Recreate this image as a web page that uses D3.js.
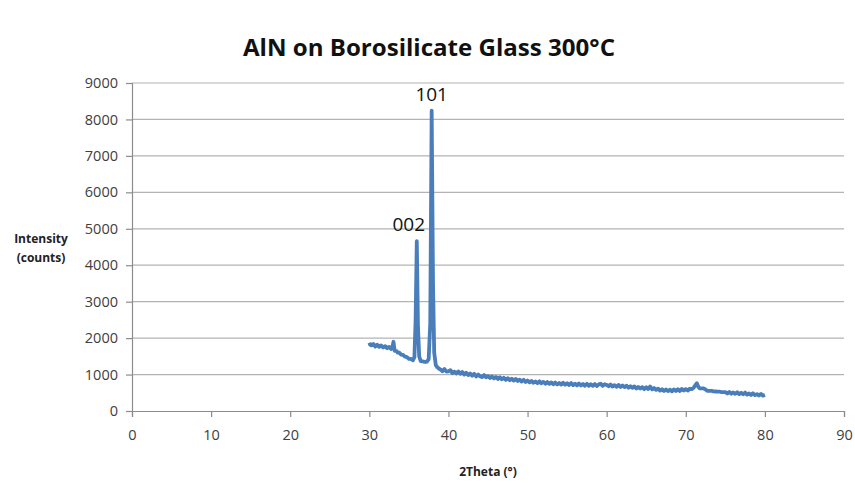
<!DOCTYPE html>
<html>
<head>
<meta charset="utf-8">
<script src="https://cdn.jsdelivr.net/npm/d3@7"></script>
<style>
  body { margin: 0; background: #fff; }
  svg text { font-family: "Open Sans", "Liberation Sans", sans-serif; }
</style>
</head>
<body>
<div id="chart"></div>
<script>
// XRD scan
const twoTheta = [
  30, 30.1, 30.25, 30.5, 30.75, 31, 31.25, 31.5, 31.75, 32, 32.25, 32.5, 32.75, 32.9, 33.05, 33.2, 33.4, 33.6, 33.8,
  34, 34.25, 34.5, 34.75, 35, 35.25, 35.5, 35.7, 35.85, 36, 36.15, 36.3, 36.5, 36.75, 37, 37.25, 37.5, 37.7, 37.88,
  38.05, 38.2, 38.4, 38.6, 38.8,
  39, 39.25, 39.5, 39.75, 40, 40.25, 40.5, 40.75, 41, 41.25, 41.5, 41.75, 42, 42.25, 42.5, 42.75,
  43, 43.25, 43.5, 43.75, 44, 44.25, 44.5, 44.75, 45, 45.25, 45.5, 45.75, 46, 46.25, 46.5, 46.75,
  47, 47.25, 47.5, 47.75, 48, 48.25, 48.5, 48.75, 49, 49.25, 49.5, 49.75, 50, 50.25, 50.5, 50.75,
  51, 51.25, 51.5, 51.75, 52, 52.25, 52.5, 52.75, 53, 53.25, 53.5, 53.75, 54, 54.25, 54.5, 54.75,
  55, 55.25, 55.5, 55.75, 56, 56.25, 56.5, 56.75, 57, 57.25, 57.5, 57.75, 58, 58.25, 58.5, 58.75,
  59, 59.25, 59.5, 59.75, 60, 60.25, 60.5, 60.75, 61, 61.25, 61.5, 61.75, 62, 62.25, 62.5, 62.75,
  63, 63.25, 63.5, 63.75, 64, 64.25, 64.5, 64.75, 65, 65.25, 65.5, 65.75, 66, 66.25, 66.5, 66.75,
  67, 67.25, 67.5, 67.75, 68, 68.25, 68.5, 68.75, 69, 69.25, 69.5, 69.75, 70, 70.25, 70.5, 70.75,
  71, 71.25, 71.4, 71.6, 71.75, 72, 72.25, 72.5, 72.75, 73, 73.25, 73.5, 73.75, 74, 74.25, 74.5, 74.75,
  75, 75.25, 75.5, 75.75, 76, 76.25, 76.5, 76.75, 77, 77.25, 77.5, 77.75, 78, 78.25, 78.5, 78.75,
  79, 79.25, 79.5, 79.75, 80
];
const counts = [
  1870, 1820, 1800, 1840, 1770, 1820, 1760, 1800, 1740, 1780, 1720, 1760, 1700, 1730, 1900, 1650, 1650, 1600, 1600,
  1550, 1540, 1490, 1480, 1430, 1430, 1390, 1480, 2500, 4660, 2300, 1500, 1370, 1360, 1350, 1350, 1420, 2400, 8240,
  3500, 1600, 1260, 1200, 1160,
  1140, 1090, 1150, 1080, 1090, 1120, 1040, 1080, 1030, 1085, 1020, 1070, 1000, 1050, 985, 1030,
  970, 1020, 950, 1000, 955, 930, 985, 925, 960, 905, 950, 895, 935, 880, 925, 870,
  910, 855, 900, 845, 885, 835, 880, 825, 860, 810, 855, 795, 835, 785, 825, 775,
  810, 765, 815, 760, 800, 750, 795, 745, 785, 735, 780, 730, 770, 725, 775, 720,
  760, 715, 765, 710, 750, 705, 755, 700, 740, 695, 745, 690, 735, 690, 740, 685,
  730, 750, 690, 735, 715, 680, 725, 670, 710, 665, 715, 660, 700, 655, 695, 640,
  680, 635, 675, 620, 660, 615, 655, 600, 650, 605, 670, 595, 630, 580, 615, 560,
  595, 550, 590, 545, 585, 540, 590, 550, 595, 550, 605, 560, 600, 560, 610, 600,
  640, 720, 760, 660, 620, 620, 620, 590, 550, 550, 555, 540, 535, 530, 530, 520, 520,
  520, 480, 525, 475, 510, 470, 515, 465, 500, 460, 505, 450, 480, 440, 485, 435,
  465, 425, 470, 420, 445
];
const xTicks = [0, 10, 20, 30, 40, 50, 60, 70, 80, 90];
const yTicks = [0, 1000, 2000, 3000, 4000, 5000, 6000, 7000, 8000, 9000];
const peakLabels = [{ x: 36.0, y: 4660, text: "002" }, { x: 37.88, y: 8240, text: "101" }];

const width = 855, height = 483;
const margin = { top: 83, right: 11, bottom: 72, left: 132 };

let svg = d3.select("#chart").append("svg")
    .attr("width", width)
    .attr("height", height);

let x = d3.scaleLinear().domain([0, 90]).range([margin.left, width - margin.right]);
let y = d3.scaleLinear().domain([0, 9000]).range([height - margin.bottom, margin.top]);

// gridlines
svg.append("g")
    .selectAll("line")
    .data(yTicks.slice(1))
    .enter()
    .append("line")
    .attr("x1", x(0)).attr("x2", x(90))
    .attr("y1", d => y(d)).attr("y2", d => y(d))
    .attr("stroke", "#b3b3b3")
    .attr("stroke-width", 1.2);

let yAxis = svg.append("g")
    .attr("transform", "translate(" + x(0) + ",0)")
    .call(d3.axisLeft(y).tickValues(yTicks).tickFormat(d3.format("d")).tickSize(6).tickPadding(8));

let xAxis = svg.append("g")
    .attr("transform", "translate(0," + y(0) + ")")
    .call(d3.axisBottom(x).tickValues(xTicks).tickSize(6).tickPadding(13));

[yAxis, xAxis].forEach(function (a) {
    a.select(".domain").attr("stroke", "#8c8c8c").attr("stroke-width", 1.2);
    a.selectAll(".tick line").attr("stroke", "#8c8c8c").attr("stroke-width", 1.2);
    a.selectAll(".tick text")
        .attr("fill", "#404040")
        .style("font-size", "14.5px")
        .style("font-family", "'Open Sans', sans-serif");
});

let line = d3.line()
    .x((d, i) => x(twoTheta[i]))
    .y(d => y(d));

svg.append("path")
    .datum(counts)
    .attr("fill", "none")
    .attr("stroke", "#4a7ebb")
    .attr("stroke-width", 3.8)
    .attr("stroke-linejoin", "round")
    .attr("d", line);

svg.selectAll(".peak")
    .data(peakLabels)
    .enter()
    .append("text")
    .attr("class", "peak")
    .attr("x", d => x(d.x) - (d.text === "002" ? 8 : 0))
    .attr("y", d => y(d.y) - 10)
    .attr("text-anchor", "middle")
    .style("font-size", "19px")
    .attr("fill", "#111")
    .text(d => d.text);

svg.append("text")
    .attr("x", 429)
    .attr("y", 56)
    .attr("text-anchor", "middle")
    .style("font-size", "23px")
    .style("font-weight", "bold")
    .attr("textLength", 372)
    .attr("lengthAdjust", "spacingAndGlyphs")
    .attr("fill", "#111")
    .text("AlN on Borosilicate Glass 300°C");

svg.append("text")
    .attr("x", 488)
    .attr("y", 476)
    .attr("text-anchor", "middle")
    .style("font-size", "12px")
    .style("font-weight", "bold")
    .attr("fill", "#222")
    .text("2Theta (°)");

let yTitle = svg.append("text")
    .attr("text-anchor", "middle")
    .style("font-size", "12px")
    .style("font-weight", "bold")
    .attr("fill", "#222");
yTitle.append("tspan").attr("x", 41).attr("y", 243).text("Intensity");
yTitle.append("tspan").attr("x", 41).attr("y", 262).text("(counts)");
</script>
</body>
</html>
